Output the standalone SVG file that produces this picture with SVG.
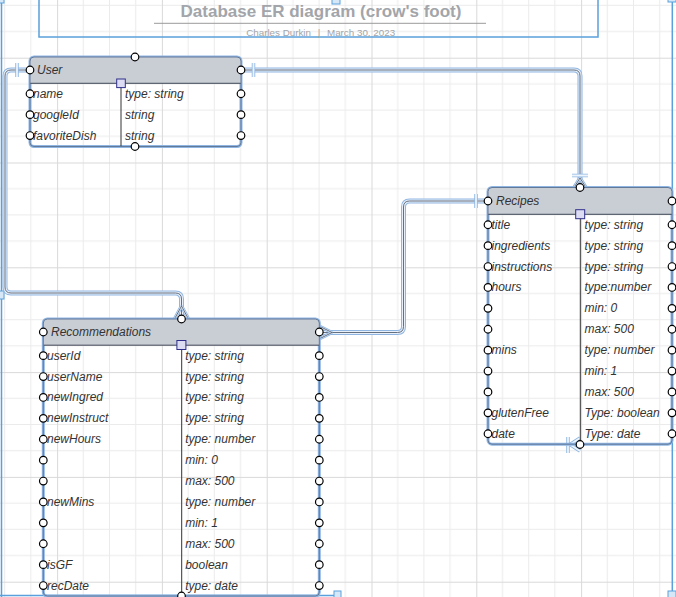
<svg xmlns="http://www.w3.org/2000/svg" width="676" height="597" viewBox="0 0 676 597">
<defs>
<pattern id="grid" patternUnits="userSpaceOnUse" x="57.1" y="57.7" width="104.8" height="104.8">
<path d="M26.2,0V104.8M52.4,0V104.8M78.6,0V104.8M0,26.2H104.8M0,52.4H104.8M0,78.6H104.8" stroke="#ebebeb" stroke-width="1" fill="none"/>
<path d="M0.5,0V104.8M0,0.5H104.8" stroke="#d9d9d9" stroke-width="1" fill="none"/>
</pattern>
</defs>
<style>
.t{font-family:"Liberation Sans",Arial,sans-serif;font-size:12px;font-style:italic;fill:#333333}
.h{font-family:"Liberation Sans",Arial,sans-serif;font-size:12px;font-style:italic;fill:#333333}
.halo{fill:none;stroke:#8fb6e3;stroke-width:3}
.box{fill:none;stroke:#62799a;stroke-width:1}
.hdr{fill:#c9cdd4}
.sep{stroke:#3d4555;stroke-width:1}
.div{stroke:#333333;stroke-width:1}
.cp{fill:#ffffff;stroke:#000000;stroke-width:1.2}
.sq{fill:#dcdcf2;stroke:#2e2e8a;stroke-width:1}
.c1{fill:none;stroke:#8fb6e3;stroke-width:5}
.c2{fill:none;stroke:#e9f0f9;stroke-width:3}
.c3{fill:none;stroke:#556070;stroke-width:0.9}
.m1{fill:none;stroke:#8fb6e3;stroke-width:3.5}
.m2{fill:none;stroke:#eef4fb;stroke-width:1.8}
.sel{fill:none;stroke:#5aa0dc;stroke-width:1.5}
.hd{fill:#d6e8f8;stroke:#5aa0dc;stroke-width:1}
</style>
<rect width="676" height="597" fill="#ffffff"/>
<rect width="676" height="597" fill="url(#grid)"/>

<g id="title">
<rect x="39" y="-5" width="559" height="42" class="sel" stroke-width="2"/>
<text x="321" y="17.3" text-anchor="middle" font-family="Liberation Sans, Arial, sans-serif" font-size="17" font-weight="bold" fill="#a2a5aa">Database ER diagram (crow's foot)</text>
<line x1="154" y1="23.3" x2="486" y2="23.3" stroke="#9a9a9a" stroke-width="1"/>
<text x="311" y="36" text-anchor="end" font-family="Liberation Sans, Arial, sans-serif" font-size="9.8" fill="#a2a5aa">Charles Durkin</text>
<text x="319" y="36" text-anchor="middle" font-family="Liberation Sans, Arial, sans-serif" font-size="9.8" fill="#a2a5aa">|</text>
<text x="327" y="36" font-family="Liberation Sans, Arial, sans-serif" font-size="9.8" fill="#a2a5aa">March 30, 2023</text>
<rect x="332" y="-2" width="8" height="6" class="hd"/>
</g>

<g id="frame">
<line x1="1.5" y1="0" x2="1.5" y2="597" class="sel"/>
<line x1="0" y1="595.5" x2="334" y2="595.5" class="sel"/>
<line x1="672.3" y1="0" x2="672.3" y2="594" class="sel"/>
<rect x="-3" y="291" width="7" height="8" class="hd"/>
<rect x="334" y="591" width="7" height="8" class="hd"/>
<rect x="668" y="-3" width="8" height="5" class="hd"/>
<rect x="668" y="591" width="8" height="8" class="hd"/>
<rect x="-3" y="-3" width="7" height="6" class="hd"/>
</g>

<g id="connectors">
<g id="user-recipes">
<path class="c1" d="M241,70H574Q580,70 580,76V187"/>
<path class="c2" d="M241,70H574Q580,70 580,76V187"/>
<path class="c3" d="M241,70H574Q580,70 580,76V187"/>
<path class="m1" d="M253.5,63V77M572,175.5H588M580,178L574,187.5M580,178L586,187.5"/>
<path class="m2" d="M253.5,63V77M572,175.5H588M580,178L574,187.5M580,178L586,187.5"/>
<path class="c3" d="M580,178L574,187.5M580,178L586,187.5"/>
</g>
<g id="user-recs">
<path class="c1" d="M30,70H11Q5,70 5,76V287Q5,293 11,293H175.5Q181.5,293 181.5,299V319"/>
<path class="c2" d="M30,70H11Q5,70 5,76V287Q5,293 11,293H175.5Q181.5,293 181.5,299V319"/>
<path class="c3" d="M30,70H11Q5,70 5,76V287Q5,293 11,293H175.5Q181.5,293 181.5,299V319"/>
<path class="m1" d="M17,63V77M181.5,306L174.5,319M181.5,306L188.5,319"/>
<path class="m2" d="M17,63V77M181.5,306L174.5,319M181.5,306L188.5,319"/>
<path class="c3" d="M181.5,306L174.5,319M181.5,306L188.5,319"/>
</g>
<g id="recs-recipes">
<path class="c1" d="M319.3,332.5H397.5Q403.5,332.5 403.5,326.5V207Q403.5,201 409.5,201H488"/>
<path class="c2" d="M319.3,332.5H397.5Q403.5,332.5 403.5,326.5V207Q403.5,201 409.5,201H488"/>
<path class="c3" d="M319.3,332.5H397.5Q403.5,332.5 403.5,326.5V207Q403.5,201 409.5,201H488"/>
<path class="m1" d="M476,194V208M332,332.5L320,326.5M332,332.5L320,338.5"/>
<path class="m2" d="M476,194V208M332,332.5L320,326.5M332,332.5L320,338.5"/>
<path class="c3" d="M332,332.5L320,326.5M332,332.5L320,338.5"/>
</g>
<g id="recipes-bottom">
<path class="m1" d="M568,437V453M570,444.5L580,438M570,444.5L580,451M566,444.5H580"/>
<path class="m2" d="M568,437V453M570,444.5L580,438M570,444.5L580,451M566,444.5H580"/>
</g>
</g>

<g id="user">
<rect x="30" y="57" width="211" height="89.5" rx="4" fill="#ffffff" class="halo"/>
<path class="hdr" d="M34,57H237Q241,57 241,61V83.3H30V61Q30,57 34,57Z"/>
<line x1="30" y1="83.3" x2="241" y2="83.3" class="sep"/>
<line x1="121" y1="83.3" x2="121" y2="146.5" class="div"/>
<rect x="30" y="57" width="211" height="89.5" rx="4" class="box"/>
<text x="37" y="74" class="h">User</text>
<text x="33" y="97.8" class="t">name</text>
<text x="125" y="97.8" class="t">type: string</text>
<text x="33" y="118.7" class="t">googleId</text>
<text x="125" y="118.7" class="t">string</text>
<text x="33" y="139.6" class="t">favoriteDish</text>
<text x="125" y="139.6" class="t">string</text>
<rect x="116.7" y="79" width="8.6" height="8.6" class="sq"/>
<circle cx="135" cy="57" r="3.8" class="cp"/>
<circle cx="135" cy="146.5" r="3.8" class="cp"/>
<circle cx="30" cy="70" r="3.8" class="cp"/>
<circle cx="241" cy="70" r="3.8" class="cp"/>
<circle cx="30" cy="93.75" r="3.8" class="cp"/>
<circle cx="30" cy="114.65" r="3.8" class="cp"/>
<circle cx="30" cy="135.55" r="3.8" class="cp"/>
<circle cx="241" cy="93.75" r="3.8" class="cp"/>
<circle cx="241" cy="114.65" r="3.8" class="cp"/>
<circle cx="241" cy="135.55" r="3.8" class="cp"/>
</g>

<g id="recipes">
<rect x="488" y="187.5" width="184" height="256.7" rx="4" fill="#ffffff" class="halo"/>
<path class="hdr" d="M492,187.5H668Q672,187.5 672,191.5V214.3H488V191.5Q488,187.5 492,187.5Z"/>
<line x1="488" y1="214.3" x2="672" y2="214.3" class="sep"/>
<line x1="580.3" y1="214.3" x2="580.3" y2="444.2" class="div"/>
<rect x="488" y="187.5" width="184" height="256.7" rx="4" class="box"/>
<text x="496" y="205" class="h">Recipes</text>
<text x="491.5" y="228.75" class="t">title</text>
<text x="584.5" y="228.75" class="t">type: string</text>
<text x="491.5" y="249.65" class="t">ingredients</text>
<text x="584.5" y="249.65" class="t">type: string</text>
<text x="491.5" y="270.55" class="t">instructions</text>
<text x="584.5" y="270.55" class="t">type: string</text>
<text x="491.5" y="291.45" class="t">hours</text>
<text x="584.5" y="291.45" class="t">type:number</text>
<text x="584.5" y="312.35" class="t">min: 0</text>
<text x="584.5" y="333.25" class="t">max: 500</text>
<text x="491.5" y="354.15" class="t">mins</text>
<text x="584.5" y="354.15" class="t">type: number</text>
<text x="584.5" y="375.05" class="t">min: 1</text>
<text x="584.5" y="395.95" class="t">max: 500</text>
<text x="491.5" y="416.85" class="t">glutenFree</text>
<text x="584.5" y="416.85" class="t">Type: boolean</text>
<text x="491.5" y="437.75" class="t">date</text>
<text x="584.5" y="437.75" class="t">Type: date</text>
<rect x="575.7" y="209.7" width="9" height="9" class="sq"/>
<circle cx="580" cy="187.5" r="3.8" class="cp"/>
<circle cx="580" cy="444.5" r="3.8" class="cp"/>
<circle cx="488" cy="201" r="3.8" class="cp"/>
<circle cx="672" cy="201" r="3.8" class="cp"/>
<g class="cp">
<circle cx="488" cy="224.75" r="3.8"/><circle cx="488" cy="245.65" r="3.8"/><circle cx="488" cy="266.55" r="3.8"/><circle cx="488" cy="287.45" r="3.8"/><circle cx="488" cy="308.35" r="3.8"/><circle cx="488" cy="329.25" r="3.8"/><circle cx="488" cy="350.15" r="3.8"/><circle cx="488" cy="371.05" r="3.8"/><circle cx="488" cy="391.95" r="3.8"/><circle cx="488" cy="412.85" r="3.8"/><circle cx="488" cy="433.75" r="3.8"/>
<circle cx="672" cy="224.75" r="3.8"/><circle cx="672" cy="245.65" r="3.8"/><circle cx="672" cy="266.55" r="3.8"/><circle cx="672" cy="287.45" r="3.8"/><circle cx="672" cy="308.35" r="3.8"/><circle cx="672" cy="329.25" r="3.8"/><circle cx="672" cy="350.15" r="3.8"/><circle cx="672" cy="371.05" r="3.8"/><circle cx="672" cy="391.95" r="3.8"/><circle cx="672" cy="412.85" r="3.8"/><circle cx="672" cy="433.75" r="3.8"/>
</g>
</g>

<g id="recommendations">
<rect x="43.3" y="319" width="276" height="277" rx="4" fill="#ffffff" class="halo"/>
<path class="hdr" d="M47.3,319H315.3Q319.3,319 319.3,323V345.2H43.3V323Q43.3,319 47.3,319Z"/>
<line x1="43.3" y1="345.2" x2="319.3" y2="345.2" class="sep"/>
<line x1="181.7" y1="345.2" x2="181.7" y2="596" class="div"/>
<rect x="43.3" y="319" width="276" height="277" rx="4" class="box"/>
<text x="51" y="336" class="h">Recommendations</text>
<text x="47" y="359.65" class="t">userId</text>
<text x="185.2" y="359.65" class="t">type: string</text>
<text x="47" y="380.55" class="t">userName</text>
<text x="185.2" y="380.55" class="t">type: string</text>
<text x="47" y="401.45" class="t">newIngred</text>
<text x="185.2" y="401.45" class="t">type: string</text>
<text x="47" y="422.35" class="t">newInstruct</text>
<text x="185.2" y="422.35" class="t">type: string</text>
<text x="47" y="443.25" class="t">newHours</text>
<text x="185.2" y="443.25" class="t">type: number</text>
<text x="185.2" y="464.15" class="t">min: 0</text>
<text x="185.2" y="485.05" class="t">max: 500</text>
<text x="47" y="505.95" class="t">newMins</text>
<text x="185.2" y="505.95" class="t">type: number</text>
<text x="185.2" y="526.85" class="t">min: 1</text>
<text x="185.2" y="547.75" class="t">max: 500</text>
<text x="47" y="568.65" class="t">isGF</text>
<text x="185.2" y="568.65" class="t">boolean</text>
<text x="47" y="589.55" class="t">recDate</text>
<text x="185.2" y="589.55" class="t">type: date</text>
<rect x="176.9" y="340.5" width="9" height="9" class="sq"/>
<circle cx="181.5" cy="319" r="3.8" class="cp"/>
<circle cx="181.5" cy="596" r="3.8" class="cp"/>
<circle cx="43.3" cy="332" r="3.8" class="cp"/>
<circle cx="319.3" cy="332" r="3.8" class="cp"/>
<g class="cp">
<circle cx="43.3" cy="355.65" r="3.8"/><circle cx="43.3" cy="376.55" r="3.8"/><circle cx="43.3" cy="397.45" r="3.8"/><circle cx="43.3" cy="418.35" r="3.8"/><circle cx="43.3" cy="439.25" r="3.8"/><circle cx="43.3" cy="460.15" r="3.8"/><circle cx="43.3" cy="481.05" r="3.8"/><circle cx="43.3" cy="501.95" r="3.8"/><circle cx="43.3" cy="522.85" r="3.8"/><circle cx="43.3" cy="543.75" r="3.8"/><circle cx="43.3" cy="564.65" r="3.8"/><circle cx="43.3" cy="585.55" r="3.8"/>
<circle cx="319.3" cy="355.65" r="3.8"/><circle cx="319.3" cy="376.55" r="3.8"/><circle cx="319.3" cy="397.45" r="3.8"/><circle cx="319.3" cy="418.35" r="3.8"/><circle cx="319.3" cy="439.25" r="3.8"/><circle cx="319.3" cy="460.15" r="3.8"/><circle cx="319.3" cy="481.05" r="3.8"/><circle cx="319.3" cy="501.95" r="3.8"/><circle cx="319.3" cy="522.85" r="3.8"/><circle cx="319.3" cy="543.75" r="3.8"/><circle cx="319.3" cy="564.65" r="3.8"/><circle cx="319.3" cy="585.55" r="3.8"/>
</g>
</g>
</svg>
